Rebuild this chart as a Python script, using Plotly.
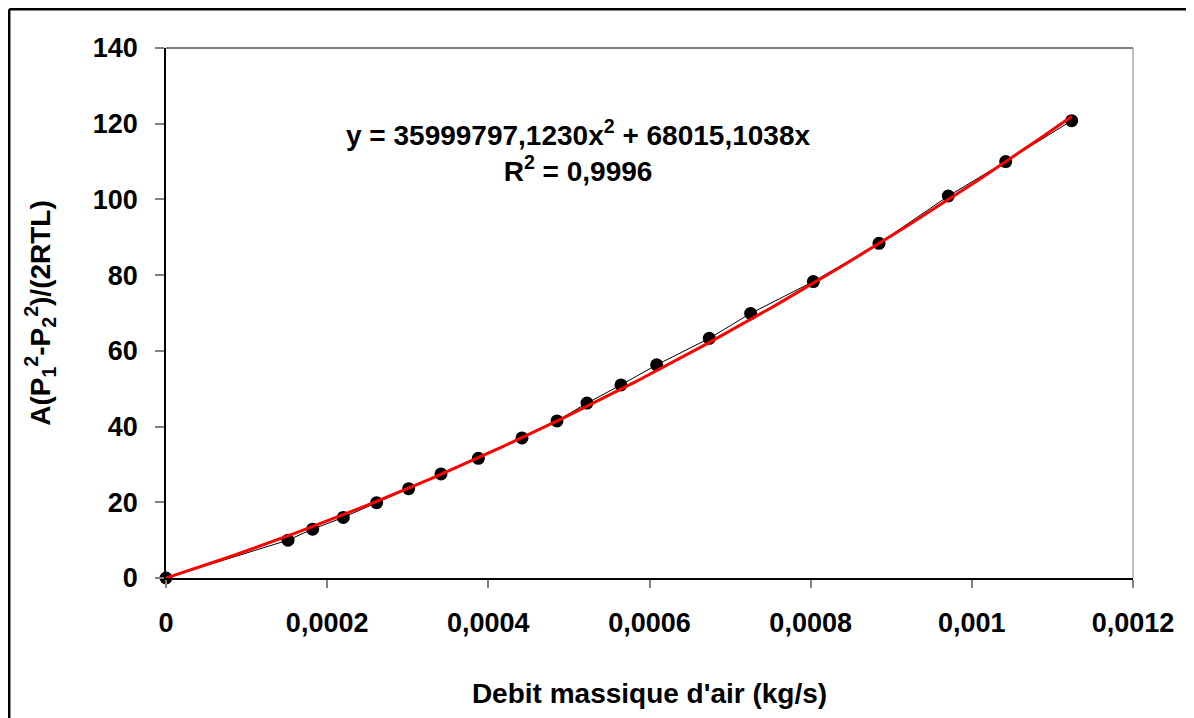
import numpy as np
import plotly.graph_objects as go

# ---- data ----
x_vals = [0, 1.514e-4, 1.820e-4, 2.200e-4, 2.614e-4, 3.011e-4, 3.413e-4, 3.876e-4,
          4.418e-4, 4.852e-4, 5.224e-4, 5.646e-4, 6.089e-4, 6.742e-4, 7.255e-4,
          8.033e-4, 8.848e-4, 9.708e-4, 1.0420e-3, 1.1239e-3]
y_vals = [0, 10.0, 12.9, 16.0, 19.9, 23.6, 27.5, 31.6, 37.0, 41.5, 46.2, 51.0,
          56.3, 63.3, 69.9, 78.3, 88.4, 100.9, 110.0, 120.8]

# trendline coefficients shown on the chart
coef_a = 35999797.1230
coef_b = 68015.1038

x_tickvals = [0, 0.0002, 0.0004, 0.0006, 0.0008, 0.001, 0.0012]
x_ticktext = ["0", "0,0002", "0,0004", "0,0006", "0,0008", "0,001", "0,0012"]
y_tickvals = [0, 20, 40, 60, 80, 100, 120, 140]
y_ticktext = ["0", "20", "40", "60", "80", "100", "120", "140"]

x_title = "Debit massique d'air (kg/s)"
y_title = "A(P<sub>1</sub><sup>2</sup>-P<sub>2</sub><sup>2</sup>)/(2RTL)"
eq_text = "y = 35999797,1230x<sup>2</sup> + 68015,1038x<br>R<sup>2</sup> = 0,9996"

# ---- layout geometry ----
OFF = 8                      # page offset of the figure (body margin)
W, H = 1194 - OFF, 718 - OFF
PL, PR, PT, PB = 166, 1133, 48, 578   # plot area in page pixels
L, R, T, B = PL - OFF, PR - OFF, PT - OFF, PB - OFF
pw, ph = R - L, B - T

def px(xp):  # page x -> paper x
    return (xp - OFF - L) / pw

def py(yp):  # page y -> paper y
    return (B - (yp - OFF)) / ph

FONT = "Liberation Sans, Arial, sans-serif"

# trendline
xt = np.linspace(0, x_vals[-1], 200)
yt = coef_a * xt ** 2 + coef_b * xt

fig = go.Figure()
fig.add_trace(go.Scatter(
    x=x_vals, y=y_vals, mode="lines+markers",
    line=dict(color="black", width=1),
    marker=dict(color="black", size=13),
    cliponaxis=False, showlegend=False))
fig.add_trace(go.Scatter(
    x=xt, y=yt, mode="lines",
    line=dict(color="#FF0000", width=3),
    cliponaxis=False, showlegend=False))

fig.update_layout(
    width=W, height=H,
    margin=dict(l=L, r=W - R, t=T, b=H - B, autoexpand=False),
    paper_bgcolor="white", plot_bgcolor="white",
    font=dict(family=FONT, size=27, color="black", weight="bold"),
    xaxis=dict(range=[0, 0.0012], tickvals=x_tickvals, ticktext=x_ticktext,
               showgrid=False, zeroline=False, showline=True, linecolor="black",
               linewidth=2, ticks="outside", ticklen=8, tickwidth=1.5,
               tickcolor="#808080", ticklabelstandoff=12, automargin=False,
               tickfont=dict(family=FONT, size=27, weight="bold"),
               title=dict(text=x_title, standoff=46,
                          font=dict(family=FONT, size=28, weight="bold"))),
    yaxis=dict(range=[0, 140], tickvals=y_tickvals, ticktext=y_ticktext,
               showgrid=False, zeroline=False, showline=True, linecolor="black",
               linewidth=1.5, ticks="outside", ticklen=9, tickwidth=1.5,
               tickcolor="#808080", ticklabelstandoff=12, automargin=False,
               tickfont=dict(family=FONT, size=27, weight="bold"),
               title=dict(text=y_title, standoff=34,
                          font=dict(family=FONT, size=28, weight="bold"))),
    annotations=[dict(text=eq_text, x=px(578), y=py(151), xref="paper", yref="paper",
                      showarrow=False, align="center", xanchor="center", yanchor="middle",
                      font=dict(family=FONT, size=28, weight="bold", color="black"))],
    shapes=[
        # plot area top & right border
        dict(type="line", xref="paper", yref="paper", x0=0, x1=1, y0=1, y1=1,
             line=dict(color="black", width=1)),
        dict(type="line", xref="paper", yref="paper", x0=1, x1=1, y0=0, y1=1,
             line=dict(color="#808080", width=1)),
        # outer chart border (left and top visible, at the figure's edge)
        dict(type="line", xref="paper", yref="paper", x0=px(9.2), x1=px(1204),
             y0=py(9.2), y1=py(9.2), line=dict(color="black", width=2.5)),
        dict(type="line", xref="paper", yref="paper", x0=px(9.2), x1=px(9.2),
             y0=py(9.2), y1=py(730), line=dict(color="black", width=2.5)),
    ],
)

fig.write_html("out.html")
